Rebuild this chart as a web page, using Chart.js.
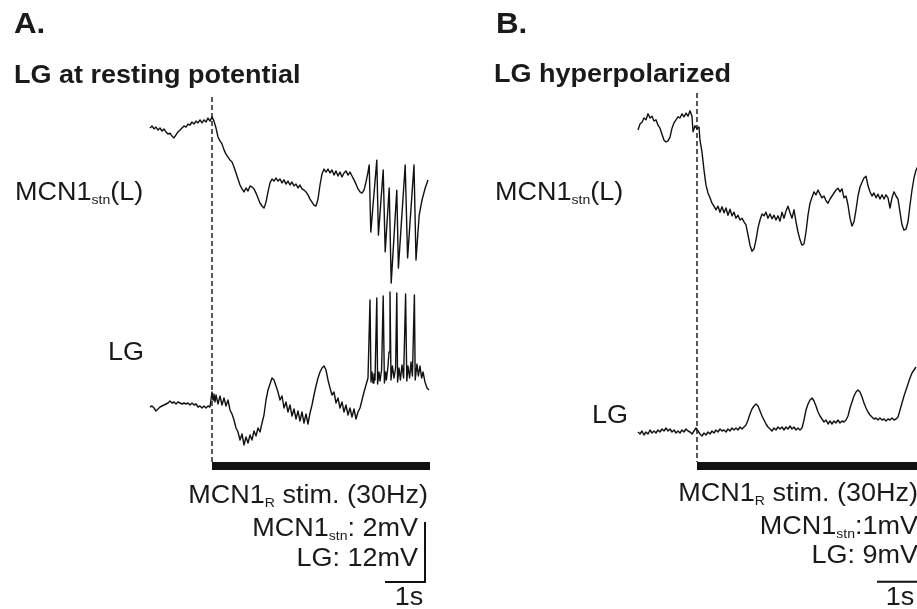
<!DOCTYPE html>
<html>
<head>
<meta charset="utf-8">
<title>MCN1 stimulation: LG at rest vs hyperpolarized</title>
<script src="https://cdn.jsdelivr.net/npm/chart.js@4.4.1/dist/chart.umd.min.js"></script>
<style>
  html, body { margin: 0; padding: 0; background: #fff; }
  canvas { display: block; }
</style>
</head>
<body>
<canvas id="traces" width="917" height="609"></canvas>
<script>
// Traces: [time (s), deflection from start (mV)]
// A. LG at resting potential
const mcnA = [
  [0,0],[0.05,0.07],[0.1,-0.03],[0.15,0.03],[0.2,-0.07],[0.25,0],[0.3,-0.1],[0.35,-0.03],[0.4,-0.13],[0.45,-0.2],
  [0.5,-0.17],[0.55,-0.27],[0.6,-0.33],[0.65,-0.23],[0.7,-0.13],[0.75,-0.07],[0.8,0],[0.85,0.07],[0.9,0.03],[0.95,0.13],
  [1.0,0.1],[1.05,0.2],[1.1,0.13],[1.15,0.23],[1.2,0.17],[1.25,0.27],[1.3,0.17],[1.35,0.27],[1.4,0.2],[1.45,0.33],
  [1.5,0.23],[1.55,0.37],[1.6,0.23],[1.65,0],[1.7,-0.3],[1.75,-0.43],[1.8,-0.53],[1.85,-0.73],[1.9,-0.87],[1.95,-0.97],
  [2.0,-1.07],[2.05,-1.13],[2.1,-1.3],[2.15,-1.5],[2.2,-1.7],[2.25,-1.9],[2.3,-2.03],[2.35,-2.13],[2.4,-2.0],[2.45,-2.1],
  [2.5,-1.93],[2.55,-1.97],[2.6,-2.03],[2.65,-2.17],[2.7,-2.33],[2.75,-2.5],[2.8,-2.6],[2.85,-2.67],[2.9,-2.47],[2.95,-2.13],
  [3.0,-1.83],[3.05,-1.7],[3.1,-1.77],[3.15,-1.67],[3.2,-1.77],[3.25,-1.7],[3.3,-1.83],[3.35,-1.73],[3.4,-1.87],[3.45,-1.77],
  [3.5,-1.9],[3.55,-1.8],[3.6,-1.93],[3.65,-1.87],[3.7,-2.0],[3.75,-1.9],[3.8,-2.03],[3.85,-2.07],[3.9,-2.13],[3.95,-2.23],
  [4.0,-2.37],[4.05,-2.47],[4.1,-2.57],[4.15,-2.6],[4.2,-2.37],[4.25,-1.9],[4.3,-1.53],[4.35,-1.37],[4.4,-1.47],[4.45,-1.37],
  [4.5,-1.5],[4.55,-1.4],[4.6,-1.57],[4.65,-1.43],[4.7,-1.6],[4.75,-1.47],[4.8,-1.63],[4.85,-1.5],[4.9,-1.43],[4.95,-1.57],
  [5.0,-1.47],[5.05,-1.6],[5.1,-1.73],[5.15,-1.87],[5.2,-2.03],[5.25,-2.13],[5.3,-2.17],[5.35,-2.07],[5.4,-1.8],[5.45,-1.47],
  [5.48,-1.23],[5.52,-3.47],[5.67,-1.07],[5.71,-3.57],[5.83,-1.4],[5.88,-4.13],[5.98,-2.0],[6.03,-5.17],[6.17,-2.07],[6.21,-4.67],
  [6.38,-1.23],[6.44,-4.33],[6.6,-1.23],[6.65,-4.4],[6.73,-2.9],[6.8,-2.4],[6.88,-2.0],[6.95,-1.73]
];
const lgA = [
  [0,0],[0.05,0.2],[0.1,-0.2],[0.15,-0.8],[0.2,-0.4],[0.25,0],[0.3,0.2],[0.35,0.4],[0.4,0.6],[0.45,0.8],
  [0.5,1.2],[0.55,0.8],[0.6,1.0],[0.65,0.6],[0.7,1.0],[0.75,0.8],[0.8,0.6],[0.85,0.8],[0.9,0.6],[0.95,0.8],
  [1.0,0.4],[1.05,0.8],[1.1,0.4],[1.15,0.6],[1.2,0],[1.25,0.2],[1.3,-0.2],[1.35,0.2],[1.4,-0.2],[1.45,0.2],
  [1.5,0],[1.55,3.0],[1.575,1.4],[1.6,2.6],[1.625,1.0],[1.65,2.4],[1.7,0.6],[1.75,2.2],[1.8,0.4],[1.85,1.8],
  [1.9,0.2],[1.95,1.4],[2.0,-0.6],[2.05,-1.4],[2.1,-2.6],[2.15,-4.2],[2.2,-5.0],[2.25,-6.6],[2.3,-5.4],[2.35,-7.6],
  [2.4,-6.0],[2.45,-7.2],[2.5,-5.6],[2.55,-6.6],[2.6,-4.8],[2.65,-5.8],[2.7,-4.2],[2.75,-5.0],[2.8,-3.2],[2.85,-1.6],
  [2.9,1.4],[2.95,3.4],[3.0,4.6],[3.05,5.8],[3.1,5.4],[3.15,4.2],[3.2,3.0],[3.25,1.4],[3.3,2.2],[3.35,-0.2],
  [3.4,1.0],[3.45,-1.0],[3.5,0.4],[3.55,-1.8],[3.6,-0.4],[3.65,-2.4],[3.7,-0.8],[3.75,-2.8],[3.8,-1.0],[3.85,-3.2],
  [3.9,-1.4],[3.95,-3.4],[4.0,-1.2],[4.05,0.4],[4.1,2.4],[4.15,4.2],[4.2,5.8],[4.25,7.0],[4.3,7.8],[4.35,8.2],
  [4.4,7.4],[4.45,5.4],[4.5,3.8],[4.55,2.4],[4.6,3.0],[4.65,0.8],[4.7,1.8],[4.75,-0.2],[4.8,1.0],[4.85,-1.0],
  [4.9,0.4],[4.95,-1.6],[5.0,-0.2],[5.05,-2.0],[5.1,-0.4],[5.15,-2.4],[5.2,-1.0],[5.25,-0.2],[5.3,1.4],[5.35,3.0],
  [5.4,4.4],[5.45,5.8],[5.5,21.4],[5.525,5.0],[5.55,7.0],[5.575,4.8],[5.6,6.6],[5.625,5.4],[5.67,21.8],[5.69,4.6],
  [5.725,7.0],[5.75,5.2],[5.79,7.4],[5.83,22.2],[5.86,4.8],[5.89,7.0],[5.91,5.4],[5.95,8.2],[5.975,11.0],[6.0,23.0],
  [6.025,5.4],[6.06,8.2],[6.1,5.8],[6.14,7.8],[6.17,22.8],[6.19,5.0],[6.225,7.8],[6.26,5.4],[6.3,8.4],[6.34,5.8],
  [6.39,22.6],[6.42,5.2],[6.45,8.2],[6.49,5.8],[6.525,9.0],[6.56,6.2],[6.61,22.4],[6.63,5.4],[6.675,8.6],[6.71,6.2],
  [6.75,8.2],[6.79,5.8],[6.825,7.0],[6.875,5.0],[6.925,3.8],[6.975,3.4]
];
// B. LG hyperpolarized
const mcnB = [
  [0,-0.05],[0.05,0.05],[0.1,0.08],[0.15,0.15],[0.2,0.12],[0.25,0.22],[0.3,0.15],[0.35,0.18],[0.4,0.1],[0.45,0.12],
  [0.5,0.03],[0.55,-0.02],[0.6,-0.12],[0.65,-0.22],[0.7,-0.25],[0.75,-0.23],[0.8,-0.17],[0.85,-0.02],[0.9,0.07],[0.95,0.12],
  [1.0,0.17],[1.05,0.15],[1.1,0.22],[1.15,0.17],[1.2,0.23],[1.25,0.18],[1.3,0.27],[1.35,0.18],[1.375,-0.08],[1.425,0.02],
  [1.475,-0.03],[1.525,0],[1.55,-0.22],[1.6,-0.42],[1.65,-0.72],[1.7,-0.97],[1.75,-1.1],[1.8,-1.18],[1.85,-1.27],[1.9,-1.32],
  [1.95,-1.38],[2.0,-1.32],[2.05,-1.42],[2.1,-1.33],[2.15,-1.43],[2.2,-1.35],[2.25,-1.47],[2.3,-1.37],[2.35,-1.48],[2.4,-1.42],
  [2.45,-1.52],[2.5,-1.47],[2.55,-1.55],[2.6,-1.52],[2.65,-1.58],[2.7,-1.63],[2.75,-1.8],[2.8,-1.97],[2.85,-2.07],[2.9,-2.03],
  [2.95,-1.88],[3.0,-1.68],[3.05,-1.55],[3.1,-1.45],[3.15,-1.48],[3.2,-1.42],[3.25,-1.52],[3.3,-1.45],[3.35,-1.53],[3.4,-1.47],
  [3.45,-1.55],[3.5,-1.48],[3.55,-1.57],[3.6,-1.42],[3.65,-1.52],[3.7,-1.4],[3.75,-1.32],[3.8,-1.43],[3.85,-1.52],[3.9,-1.38],
  [3.95,-1.58],[4.0,-1.75],[4.05,-1.88],[4.1,-1.97],[4.15,-1.95],[4.2,-1.75],[4.25,-1.47],[4.3,-1.27],[4.35,-1.17],[4.4,-1.08],
  [4.45,-1.13],[4.5,-1.05],[4.55,-1.12],[4.6,-1.18],[4.65,-1.15],[4.7,-1.23],[4.75,-1.27],[4.8,-1.2],[4.85,-1.15],[4.9,-1.1],
  [4.95,-1.05],[5.0,-1.02],[5.05,-1.08],[5.1,-1.03],[5.15,-1.18],[5.2,-1.15],[5.25,-1.3],[5.3,-1.52],[5.35,-1.65],[5.4,-1.58],
  [5.45,-1.38],[5.5,-1.15],[5.55,-1.0],[5.6,-0.92],[5.65,-0.85],[5.7,-0.82],[5.75,-0.98],[5.8,-1.08],[5.85,-1.15],[5.9,-1.1],
  [5.95,-1.18],[6.0,-1.12],[6.05,-1.2],[6.1,-1.13],[6.15,-1.2],[6.2,-1.13],[6.25,-1.18],[6.3,-1.35],[6.35,-1.18],[6.4,-1.08],
  [6.45,-1.15],[6.5,-1.2],[6.55,-1.42],[6.6,-1.63],[6.65,-1.72],[6.7,-1.7],[6.75,-1.58],[6.8,-1.3],[6.85,-1.05],[6.9,-0.85],
  [6.95,-0.72],[7.0,-0.65]
];
const lgB = [
  [0,0.15],[0.05,-0.15],[0.1,0.3],[0.15,-0.3],[0.2,0.15],[0.25,-0.15],[0.3,0.45],[0.35,0],[0.4,0.3],[0.45,0],
  [0.5,0.45],[0.55,0.15],[0.6,0.6],[0.65,0.3],[0.7,0.75],[0.75,0.3],[0.8,0.6],[0.85,0.15],[0.9,0.45],[0.95,0],
  [1.0,0.3],[1.05,0],[1.1,0.45],[1.15,0.15],[1.2,0.6],[1.25,0.3],[1.3,0.15],[1.35,-0.15],[1.4,0.3],[1.45,0.75],
  [1.5,0.3],[1.55,-0.15],[1.6,-0.45],[1.65,0],[1.7,-0.3],[1.75,0.15],[1.8,-0.15],[1.85,0.3],[1.9,0],[1.95,0.45],
  [2.0,0.15],[2.05,0.6],[2.1,0.3],[2.15,0.45],[2.2,0.15],[2.25,0.6],[2.3,0.3],[2.35,0.75],[2.4,0.45],[2.45,0.75],
  [2.5,0.45],[2.55,0.9],[2.6,0.6],[2.65,0.9],[2.7,1.2],[2.75,1.95],[2.8,2.85],[2.85,3.6],[2.9,4.05],[2.95,4.35],
  [3.0,4.05],[3.05,3.3],[3.1,2.55],[3.15,1.95],[3.2,1.35],[3.25,0.9],[3.3,0.6],[3.35,0.3],[3.4,0.75],[3.45,0.45],
  [3.5,0.9],[3.55,0.6],[3.6,0.9],[3.65,0.45],[3.7,0.9],[3.75,0.6],[3.8,1.05],[3.85,0.6],[3.9,0.9],[3.95,0.45],
  [4.0,0.75],[4.05,0.45],[4.1,0.75],[4.15,1.95],[4.2,3.45],[4.25,4.35],[4.3,4.95],[4.35,5.25],[4.4,4.8],[4.45,4.05],
  [4.5,3.15],[4.55,2.55],[4.6,2.1],[4.65,1.65],[4.7,1.95],[4.75,1.35],[4.8,1.8],[4.85,1.35],[4.9,1.8],[4.95,1.5],
  [5.0,1.95],[5.05,1.5],[5.1,1.8],[5.15,1.65],[5.2,1.95],[5.25,2.55],[5.3,3.75],[5.35,4.65],[5.4,5.55],[5.45,6.15],
  [5.5,6.45],[5.55,6.15],[5.6,5.4],[5.65,4.5],[5.7,3.75],[5.75,3.15],[5.8,2.7],[5.85,2.4],[5.9,2.1],[5.95,2.25],
  [6.0,1.95],[6.05,2.25],[6.1,1.95],[6.15,2.1],[6.2,1.8],[6.25,2.1],[6.3,1.95],[6.35,2.25],[6.4,1.95],[6.45,2.1],
  [6.5,2.4],[6.55,3.45],[6.6,4.5],[6.65,5.55],[6.7,6.45],[6.75,7.35],[6.8,8.25],[6.85,9.0],[6.9,9.45],[6.95,9.9]
];

// stimulation windows (s) and scale bars
const stimA = [1.55, 7.0];
const stimB = [1.475, 7.0];
const scaleA = { s: 1, mcnMv: 2, lgMv: 12 };
const scaleB = { s: 1, mcnMv: 1, lgMv: 9 };

// ---- layout (pixels of the 917x609 figure) ----
const W = 917, H = 609;
const PX_PER_S = 40;
const ink = '#111111';

function xRange(zeroPx) {
    return { min: -zeroPx / PX_PER_S, max: (W - zeroPx) / PX_PER_S };
}
function yRange(zeroPx, pxPerUnit) {
    return { min: (zeroPx - H) / pxPerUnit, max: zeroPx / pxPerUnit };
}
const pts = arr => arr.map(([x, y]) => ({ x, y }));

function trace(data, xAxisID, yAxisID) {
    return { data: pts(data), xAxisID, yAxisID, borderColor: ink, borderWidth: 1.4 };
}
function mark(data, xAxisID, yAxisID, extra) {
    return Object.assign({ data: pts(data), xAxisID, yAxisID, borderColor: ink, borderWidth: 1.2 }, extra);
}

// text drawn on top of the traces
const FONT = "'Liberation Sans', Arial, Helvetica, sans-serif";
const STRETCH = 1.08;
const figureText = [
    { parts: ['A.'], x: 14, y: 33, size: 29, bold: true },
    { parts: ['B.'], x: 496, y: 33, size: 29, bold: true },
    { parts: ['LG at resting potential'], x: 14, y: 83, size: 25, bold: true },
    { parts: ['LG hyperpolarized'], x: 494, y: 82, size: 25, bold: true },
    { parts: ['MCN1', { sub: 'stn' }, '(L)'], x: 15, y: 200, size: 25 },
    { parts: ['MCN1', { sub: 'stn' }, '(L)'], x: 495, y: 200, size: 25 },
    { parts: ['LG'], x: 108, y: 360, size: 25 },
    { parts: ['LG'], x: 592, y: 423, size: 25 },
    { parts: ['MCN1', { sub: 'R' }, ' stim. (30Hz)'], x: 428, y: 503, size: 25, align: 'right' },
    { parts: ['MCN1', { sub: 'stn' }, ': ' + scaleA.mcnMv + 'mV'], x: 418, y: 536, size: 25, align: 'right' },
    { parts: ['LG: ' + scaleA.lgMv + 'mV'], x: 418, y: 566, size: 25, align: 'right' },
    { parts: [scaleA.s + 's'], x: 409, y: 605, size: 25, align: 'center' },
    { parts: ['MCN1', { sub: 'R' }, ' stim. (30Hz)'], x: 918, y: 501, size: 25, align: 'right' },
    { parts: ['MCN1', { sub: 'stn' }, ':' + scaleB.mcnMv + 'mV'], x: 918, y: 534, size: 25, align: 'right' },
    { parts: ['LG: ' + scaleB.lgMv + 'mV'], x: 918, y: 563, size: 25, align: 'right' },
    { parts: [scaleB.s + 's'], x: 900, y: 605, size: 25, align: 'center' }
];

function drawRich(ctx, item) {
    const weight = item.bold ? 'bold ' : '';
    const subSize = Math.round(item.size * 0.52);
    const segs = item.parts.map(p => typeof p === 'string'
        ? { text: p, font: weight + item.size + 'px ' + FONT, dy: 0 }
        : { text: p.sub, font: weight + subSize + 'px ' + FONT, dy: 4 });
    let total = 0;
    segs.forEach(s => { ctx.font = s.font; s.w = ctx.measureText(s.text).width; total += s.w; });
    let x0 = item.x;
    if (item.align === 'right') x0 -= total * STRETCH;
    if (item.align === 'center') x0 -= total * STRETCH / 2;
    ctx.save();
    ctx.translate(x0, item.y);
    ctx.scale(STRETCH, 1);
    ctx.fillStyle = '#1a1a1a';
    ctx.textBaseline = 'alphabetic';
    ctx.textAlign = 'left';
    let cx = 0;
    segs.forEach(s => { ctx.font = s.font; ctx.fillText(s.text, cx, s.dy); cx += s.w; });
    ctx.restore();
}

const textPlugin = {
    id: 'figureText',
    afterDraw(chart) {
        figureText.forEach(item => drawRich(chart.ctx, item));
    }
};

// scale bars sit below the traces (mV on each panel's MCN axis)
const barTopA = -13.13;
const barYB = -7.58;

const ctx = document.getElementById('traces').getContext('2d');
new Chart(ctx, {
    type: 'line',
    data: {
        datasets: [
            trace(mcnA, 'xA', 'yAm'),
            trace(lgA, 'xA', 'yAl'),
            trace(mcnB, 'xB', 'yBm'),
            trace(lgB, 'xB', 'yBl'),
            mark([[stimA[0], 97], [stimA[0], 462]], 'xA', 'yPg', { borderDash: [5, 3], borderWidth: 1.4 }),
            mark([[stimB[0], 93], [stimB[0], 462]], 'xB', 'yPg', { borderDash: [5, 3], borderWidth: 1.4 }),
            mark([[stimA[0], 466], [stimA[1], 466]], 'xA', 'yPg', { borderWidth: 8, borderCapStyle: 'butt' }),
            mark([[stimB[0], 466], [stimB[1], 466]], 'xB', 'yPg', { borderWidth: 8, borderCapStyle: 'butt' }),
            mark([[6.875, barTopA], [6.875, barTopA - scaleA.mcnMv], [6.875 - scaleA.s, barTopA - scaleA.mcnMv]],
                'xA', 'yAm', { borderWidth: 2, borderJoinStyle: 'miter' }),
            mark([[6.975 - scaleB.s, barYB], [6.975, barYB]], 'xB', 'yBm', { borderWidth: 2 })
        ]
    },
    options: {
        responsive: false,
        animation: false,
        devicePixelRatio: 1,
        layout: { padding: 0 },
        elements: {
            point: { radius: 0, hoverRadius: 0 },
            line: { tension: 0, borderJoinStyle: 'round', fill: false }
        },
        plugins: {
            legend: { display: false },
            tooltip: { enabled: false },
            title: { display: false }
        },
        scales: {
            xA: Object.assign({ type: 'linear', display: false }, xRange(150)),
            xB: Object.assign({ type: 'linear', display: false }, xRange(638)),
            yAm: Object.assign({ type: 'linear', display: false }, yRange(128, 30)),
            yAl: Object.assign({ type: 'linear', display: false }, yRange(407, 5)),
            yBm: Object.assign({ type: 'linear', display: false }, yRange(127, 60)),
            yBl: Object.assign({ type: 'linear', display: false }, yRange(433, 60 / 9)),
            yPg: { type: 'linear', display: false, min: 0, max: H, reverse: true }
        }
    },
    plugins: [textPlugin]
});
</script>
</body>
</html>
